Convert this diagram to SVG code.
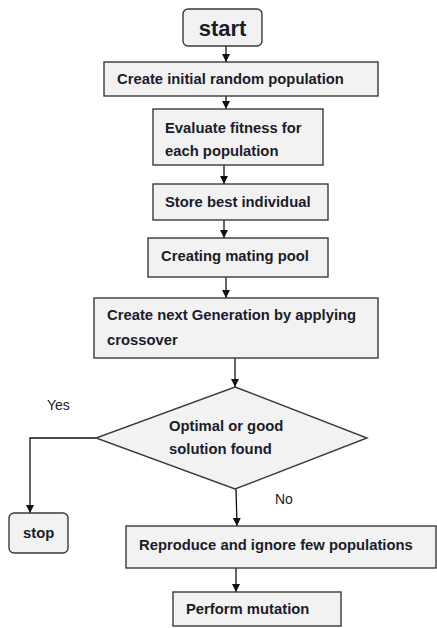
<svg xmlns="http://www.w3.org/2000/svg" width="437" height="628" viewBox="0 0 437 628">
<defs>
<marker id="arr" viewBox="0 0 10 10" refX="10" refY="5" markerWidth="8" markerHeight="8" markerUnits="userSpaceOnUse" orient="auto">
<path d="M0,0 L10,5 L0,10 z" fill="#111"/>
</marker>
<style>
.box{fill:#f2f2f2;stroke:#3a3a3a;stroke-width:1.4}
.t{font-family:"Liberation Sans",Arial,sans-serif;font-weight:bold;font-size:14.8px;fill:#1b1b2b}
.lbl{font-family:"Liberation Sans",Arial,sans-serif;font-size:14px;fill:#1b1b2b}
.c{fill:none;stroke:#111;stroke-width:1.3;marker-end:url(#arr)}
</style>
</defs>
<rect width="437" height="628" fill="#fff"/>
<g id="connectors">
<line class="c" x1="226" y1="46" x2="226" y2="62"/>
<line class="c" x1="226" y1="96" x2="226" y2="109"/>
<line class="c" x1="224" y1="165" x2="224" y2="184"/>
<line class="c" x1="224" y1="220" x2="224" y2="238"/>
<line class="c" x1="226" y1="277" x2="226" y2="298"/>
<line class="c" x1="235" y1="358" x2="235" y2="387"/>
<polyline class="c" points="96,438 30,438 30,513"/>
<line class="c" x1="236" y1="489" x2="237" y2="526"/>
<line class="c" x1="236" y1="568" x2="236" y2="592"/>
</g>
<g id="start">
<rect class="box" x="183" y="9" width="79" height="37" rx="5"/>
<text class="t" x="222.5" y="36" text-anchor="middle" style="font-size:22px">start</text>
</g>
<g id="create-initial">
<rect class="box" x="104" y="62" width="274" height="34"/>
<text class="t" x="117" y="84">Create initial random population</text>
</g>
<g id="evaluate">
<rect class="box" x="153" y="109" width="170" height="56"/>
<text class="t" x="165" y="133">Evaluate fitness for</text>
<text class="t" x="165" y="156">each population</text>
</g>
<g id="store">
<rect class="box" x="153" y="184" width="175" height="36"/>
<text class="t" x="165" y="207">Store best individual</text>
</g>
<g id="mating">
<rect class="box" x="148" y="238" width="180" height="39"/>
<text class="t" x="161" y="261">Creating mating pool</text>
</g>
<g id="next-gen">
<rect class="box" x="94" y="298" width="284" height="60"/>
<text class="t" x="107" y="320">Create next Generation by applying</text>
<text class="t" x="107" y="345">crossover</text>
</g>
<g id="decision">
<polygon class="box" points="235,387 367,438 235,489 96,438"/>
<text class="t" x="169" y="431">Optimal or good</text>
<text class="t" x="169" y="454">solution found</text>
</g>
<text class="lbl" x="47" y="410">Yes</text>
<text class="lbl" x="275" y="504">No</text>
<g id="stop">
<rect class="box" x="9" y="513" width="59" height="40" rx="5"/>
<text class="t" x="23" y="538">stop</text>
</g>
<g id="reproduce">
<rect class="box" x="126" y="526" width="310" height="42"/>
<text class="t" x="139" y="550">Reproduce and ignore few populations</text>
</g>
<g id="mutation">
<rect class="box" x="173" y="592" width="168" height="34"/>
<text class="t" x="186" y="614">Perform mutation</text>
</g>
</svg>
